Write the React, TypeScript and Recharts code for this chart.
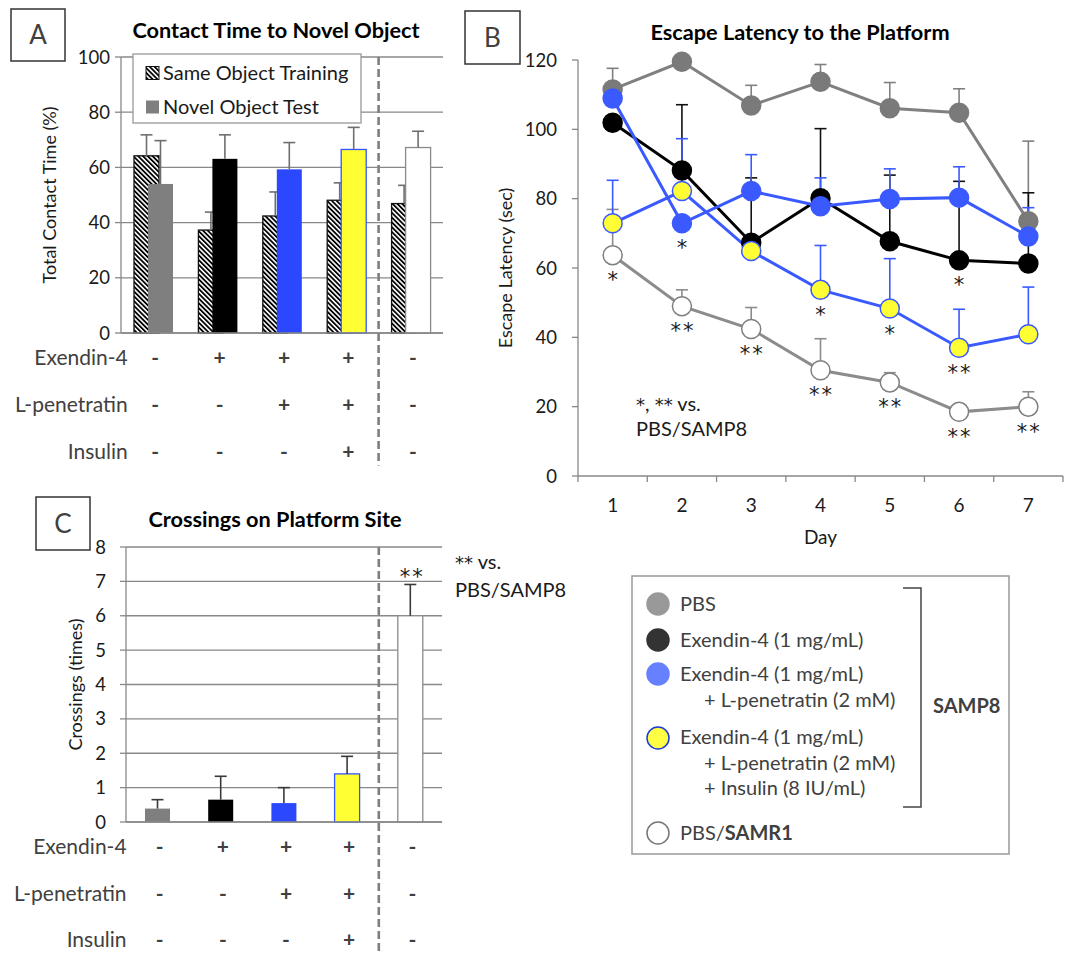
import React from 'react';
import {
  BarChart,
  Bar,
  LineChart,
  Line,
  XAxis,
  YAxis,
  CartesianGrid,
  ErrorBar,
  LabelList,
  ReferenceLine,
} from 'recharts';

const FONT = 'Lato, "Open Sans", sans-serif';
const STAR = '"DejaVu Sans", sans-serif';
const AXIS = '#888888';
const TEXT = '#1a1a1a';
const SOFT = '#404040';
const BLUE = '#3a5aff';

// ---- groups shared by panels A and C
const groups = ['PBS', 'Ex4', 'Ex4+LP', 'Ex4+LP+Ins', 'SAMR1'];
const rowLabels = ['Exendin-4', 'L-penetratin', 'Insulin'];
const exendinSigns = ['-', '+', '+', '+', '-'];
const penetratinSigns = ['-', '-', '+', '+', '-'];
const insulinSigns = ['-', '-', '-', '+', '-'];
const signRows = [exendinSigns, penetratinSigns, insulinSigns];
const controlGroup = 'SAMR1'; // dashed separator sits at the start of this band

const groupFill = ['#7f7f7f', '#000000', '#2b48ff', '#ffff33', '#ffffff'];
const groupStroke = ['none', 'none', 'none', '#3355ff', '#8a8a8a'];

// ---- panel A: contact time (%)
const trainingTime = [64.2, 37.3, 42.4, 48.1, 46.9];
const trainingErr = [7.6, 6.5, 8.7, 6.3, 6.6];
const novelTime = [54.0, 63.1, 59.3, 66.5, 67.2];
const novelErr = [15.7, 8.7, 9.7, 8.0, 5.9];
const contactTicks = [0, 20, 40, 60, 80, 100];

// ---- panel B: escape latency (sec)
const days = [1, 2, 3, 4, 5, 6, 7];
const dayAxisTicks = [0.5, 1, 1.5, 2, 2.5, 3, 3.5, 4, 4.5, 5, 5.5, 6, 6.5, 7, 7.5];
const latencyTicks = [0, 20, 40, 60, 80, 100, 120];
const pbsLatency = [111.5, 119.5, 106.9, 113.7, 106.1, 104.8, 73.5];
const pbsErr = [6.1, null, 5.8, 5.0, 7.4, 6.9, 23.1];
const exLatency = [101.9, 88.1, 67.3, 80.1, 67.7, 62.2, 61.3];
const exErr = [null, 19.0, 18.7, 20.1, 19.1, 22.8, 20.4];
const exLpLatency = [108.9, 72.9, 82.2, 77.8, 79.9, 80.3, 69.1];
const exLpErr = [null, null, 10.5, 8.2, 8.7, 8.9, 8.3];
const exLpInsLatency = [72.9, 82.2, 64.9, 53.7, 48.3, 37.0, 40.9];
const exLpInsErr = [12.4, 15.1, null, 12.8, 14.4, 11.1, 13.6];
const samr1Latency = [63.7, 49.0, 42.4, 30.5, 27.0, 18.5, 20.0];
const samr1Err = [13.2, 4.7, 6.2, 9.1, 2.8, null, 4.3];
const exSig = ['', '', '', '', '', '*', ''];
const exLpSig = ['', '*', '', '', '', '', ''];
const exLpInsSig = ['', '', '', '*', '*', '**', ''];
const samr1Sig = ['*', '**', '**', '**', '**', '**', '**'];

// ---- panel C: crossings (times)
const crossings = [0.39, 0.65, 0.55, 1.4, 6.0];
const crossErr = [0.26, 0.68, 0.45, 0.51, 0.91];
const crossSig = ['', '', '', '', '**'];
const crossTicks = [0, 1, 2, 3, 4, 5, 6, 7, 8];

// ---- legend
const legendItems = [
  { lines: ['PBS'], fill: '#999999', stroke: '#999999' },
  { lines: ['Exendin-4 (1 mg/mL)'], fill: '#333333', stroke: '#333333' },
  { lines: ['Exendin-4 (1 mg/mL)', '+ L-penetratin (2 mM)'], fill: '#6680ff', stroke: '#6680ff' },
  { lines: ['Exendin-4 (1 mg/mL)', '+ L-penetratin (2 mM)', '+ Insulin (8 IU/mL)'], fill: '#ffff44', stroke: '#1f3bd6' },
];

const errPair = (e: number | null) => (e == null ? null : [0, e]);

const contactRows = groups.map((g, i) => ({
  group: g,
  training: trainingTime[i],
  novel: novelTime[i],
}));

const latencyRows = days.map((d, i) => ({
  day: d,
  pbs: pbsLatency[i],
  pbsErr: errPair(pbsErr[i]),
  ex: exLatency[i],
  exErr: errPair(exErr[i]),
  exLp: exLpLatency[i],
  exLpErr: errPair(exLpErr[i]),
  exLpIns: exLpInsLatency[i],
  exLpInsErr: errPair(exLpInsErr[i]),
  samr1: samr1Latency[i],
  samr1Err: errPair(samr1Err[i]),
  exSig: exSig[i],
  exLpSig: exLpSig[i],
  exLpInsSig: exLpInsSig[i],
  samr1Sig: samr1Sig[i],
}));

const crossRows = groups.map((g, i) => ({ group: g, crossings: crossings[i], sig: crossSig[i] }));

// bar + upper whisker, whisker length taken from the bar's own pixel scale
function whiskerBar(values: number[], errs: number[], fills: string[], strokes: string[], color: string) {
  return (props: any) => {
    const { x, y, width, height, payload } = props;
    const i = groups.indexOf(payload.group);
    const k = height / values[i];
    const cx = x + width / 2;
    const top = y - errs[i] * k;
    return (
      <g>
        <rect x={x} y={y} width={width} height={height} fill={fills[i]} stroke={strokes[i]} strokeWidth={1.3} />
        <line x1={cx} y1={y} x2={cx} y2={top} stroke={color} strokeWidth={1.6} />
        <line x1={cx - 6} y1={top} x2={cx + 6} y2={top} stroke={color} strokeWidth={1.6} />
      </g>
    );
  };
}

function signTick(rowDy: number[], labelGap: number) {
  return (props: any) => {
    const { x, y, index } = props;
    return (
      <g>
        {signRows.map((row, r) => (
          <text key={r} x={x + 2} y={y + rowDy[r]} textAnchor="middle" fontSize={21} fontWeight={700} fill={SOFT}>
            {row[index]}
          </text>
        ))}
        {index === 0 &&
          rowLabels.map((lab, r) => (
            <text key={'l' + r} x={x - labelGap} y={y + rowDy[r]} textAnchor="end" fontSize={21} fill={SOFT}>
              {lab}
            </text>
          ))}
      </g>
    );
  };
}

const dayTick = (props: any) => {
  const { x, y, payload } = props;
  if (Number.isInteger(payload.value)) {
    return (
      <text x={x} y={y + 36} textAnchor="middle" fontSize={19} fill={TEXT}>
        {payload.value}
      </text>
    );
  }
  return <line x1={x} x2={x} y1={y} y2={y + 6} stroke={AXIS} strokeWidth={1.3} />;
};

const sigLabel = (props: any) => {
  const { x, y, value } = props;
  if (!value) return null;
  return (
    <text x={x + 1} y={y + 32} textAnchor="middle" fontSize={21} fontFamily={STAR} fill={TEXT} letterSpacing={2}>
      {value}
    </text>
  );
};

const crossSigLabel = (props: any) => {
  const { x, y, width, height, value, index } = props;
  if (!value) return null;
  const top = y - crossErr[index] * (height / crossings[index]);
  return (
    <text x={x + width / 2 + 2} y={top} textAnchor="middle" fontSize={21} fontFamily={STAR} fill={TEXT} letterSpacing={2}>
      {value}
    </text>
  );
};

const axisLine = { stroke: AXIS, strokeWidth: 1.3 };
const tickStyle = { fill: TEXT, fontSize: 18.5 };
const axisTitle = { textAnchor: 'middle', fontSize: 18, fill: TEXT };
const dashed = { stroke: '#7f7f7f', strokeWidth: 2.6, strokeDasharray: '8 4' };

const HatchDef = ({ id }: { id: string }) => (
  <pattern id={id} patternUnits="userSpaceOnUse" width={3.4} height={3.4} patternTransform="rotate(-45)">
    <rect x={0} y={0} width={3.4} height={3.4} fill="#fff" />
    <rect x={0} y={0} width={1.8} height={3.4} fill="#000" />
  </pattern>
);

function PanelA() {
  return (
    <BarChart width={460} height={470} data={contactRows} margin={{ top: 57, right: 17, bottom: 7, left: 0 }} barSize={25} barGap={-11} barCategoryGap={0}>
      <defs>
        <HatchDef id="hatch" />
      </defs>
      <CartesianGrid vertical={false} stroke={AXIS} strokeWidth={1.3} />
      <XAxis dataKey="group" interval={0} tick={signTick([32, 79, 126], 25.5)} tickLine={false} tickSize={0} tickMargin={0} height={130} axisLine={axisLine} />
      <YAxis
        domain={[0, 100]}
        ticks={contactTicks}
        width={121}
        tickSize={6}
        tickMargin={5}
        axisLine={axisLine}
        tickLine={axisLine}
        tick={tickStyle}
        label={{ value: 'Total Contact Time (%)', angle: -90, position: 'insideLeft', offset: 50, style: axisTitle }}
      />
      <Bar dataKey="training" isAnimationActive={false} shape={whiskerBar(trainingTime, trainingErr, groups.map(() => 'url(#hatch)'), groups.map(() => '#111'), '#6e6e6e')} />
      <Bar dataKey="novel" isAnimationActive={false} shape={whiskerBar(novelTime, novelErr, groupFill, groupStroke, '#6e6e6e')} />
      <ReferenceLine
        segment={[{ x: controlGroup, y: 100 }, { x: controlGroup, y: -48 }]}
        position="start"
        ifOverflow="visible"
        {...dashed}
      />
    </BarChart>
  );
}

function PanelB() {
  const series = [
    { key: 'samr1', err: 'samr1Err', sig: 'samr1Sig', line: '#8c8c8c', fill: '#ffffff', stroke: '#7f7f7f', errColor: '#8c8c8c' },
    { key: 'pbs', err: 'pbsErr', sig: '', line: '#808080', fill: '#7a7a7a', stroke: '#7a7a7a', errColor: '#808080' },
    { key: 'ex', err: 'exErr', sig: 'exSig', line: '#000000', fill: '#000000', stroke: '#000000', errColor: '#111111' },
    { key: 'exLpIns', err: 'exLpInsErr', sig: 'exLpInsSig', line: BLUE, fill: '#ffff33', stroke: BLUE, errColor: BLUE },
    { key: 'exLp', err: 'exLpErr', sig: 'exLpSig', line: BLUE, fill: BLUE, stroke: BLUE, errColor: BLUE },
  ];
  return (
    <LineChart width={608} height={560} data={latencyRows} margin={{ top: 60, right: 5, bottom: 0, left: 0 }}>
      <XAxis
        dataKey="day"
        type="number"
        domain={[0.5, 7.5]}
        ticks={dayAxisTicks}
        interval={0}
        tick={dayTick}
        tickLine={false}
        tickSize={0}
        tickMargin={0}
        height={84}
        axisLine={axisLine}
        label={{ value: 'Day', position: 'insideBottom', offset: 16, style: { fontSize: 19, fill: TEXT } }}
      />
      <YAxis
        domain={[0, 120]}
        ticks={latencyTicks}
        width={118}
        tickSize={6}
        tickMargin={15}
        axisLine={axisLine}
        tickLine={axisLine}
        tick={tickStyle}
        label={{ value: 'Escape Latency (sec)', angle: -90, position: 'insideLeft', offset: 46, style: axisTitle }}
      />
      {series.map((s) => (
        <Line
          key={s.key}
          dataKey={s.key}
          isAnimationActive={false}
          stroke={s.line}
          strokeWidth={3}
          dot={{ r: 9.5, fill: s.fill, stroke: s.stroke, strokeWidth: 1.5 }}
          activeDot={false}
        >
          <ErrorBar dataKey={s.err} width={6} stroke={s.errColor} strokeWidth={1.6} direction="y" />
          {s.sig && <LabelList dataKey={s.sig} content={sigLabel} />}
        </Line>
      ))}
    </LineChart>
  );
}

function PanelC() {
  return (
    <BarChart width={460} height={473} data={crossRows} margin={{ top: 67, right: 18, bottom: 6, left: 0 }} barSize={25}>
      <CartesianGrid vertical={false} stroke={AXIS} strokeWidth={1.3} />
      <XAxis dataKey="group" interval={0} tick={signTick([31.5, 78.7, 124.7], 31)} tickLine={false} tickSize={0} tickMargin={0} height={125} axisLine={axisLine} />
      <YAxis
        domain={[0, 8]}
        ticks={crossTicks}
        width={126}
        tickSize={6}
        tickMargin={14}
        axisLine={axisLine}
        tickLine={axisLine}
        tick={tickStyle}
        label={{ value: 'Crossings (times)', angle: -90, position: 'insideLeft', offset: 76, style: axisTitle }}
      />
      <Bar dataKey="crossings" isAnimationActive={false} shape={whiskerBar(crossings, crossErr, groupFill, groupStroke, '#3a3a3a')}>
        <LabelList dataKey="sig" content={crossSigLabel} />
      </Bar>
      <ReferenceLine
        segment={[{ x: controlGroup, y: 8 }, { x: controlGroup, y: -4 }]}
        position="start"
        ifOverflow="visible"
        {...dashed}
      />
    </BarChart>
  );
}

function PanelBox({ x, y, w, h, letter }: { x: number; y: number; w: number; h: number; letter: string }) {
  return (
    <g>
      <rect x={x} y={y} width={w} height={h} fill="#fff" stroke="#333" strokeWidth={1.5} />
      <text x={x + w / 2} y={y + h / 2 + 9} textAnchor="middle" fontSize={26} fill={SOFT}>
        {letter}
      </text>
    </g>
  );
}

const Star = ({ s }: { s: string }) => (
  <tspan fontFamily={STAR} fontSize={18}>
    {s}
  </tspan>
);

function Overlay() {
  const legendRowY = [604, 640, 674, 737];
  return (
    <svg width={1068} height={953} style={{ position: 'absolute', left: 0, top: 0, pointerEvents: 'none' }}>
      <defs>
        <HatchDef id="hatchKey" />
      </defs>
      <PanelBox x={11} y={9} w={54} h={52} letter="A" />
      <PanelBox x={465} y={11} w={55} h={53} letter="B" />
      <PanelBox x={36} y={497} w={54} h={53} letter="C" />

      <text x={276} y={37.5} textAnchor="middle" fontSize={21.7} fontWeight={700} fill="#000">Contact Time to Novel Object</text>
      <text x={800} y={39.5} textAnchor="middle" fontSize={21.7} fontWeight={700} fill="#000">Escape Latency to the Platform</text>
      <text x={275} y={526.5} textAnchor="middle" fontSize={21.7} fontWeight={700} fill="#000">Crossings on Platform Site</text>

      {/* panel A key */}
      <rect x={133} y={54} width={228} height={69} fill="#fff" stroke="#999" strokeWidth={1.3} />
      <rect x={146} y={66.5} width={13} height={13} fill="url(#hatchKey)" stroke="#111" strokeWidth={1} />
      <text x={163} y={80} fontSize={20} fill={TEXT}>Same Object Training</text>
      <rect x={146} y={100.5} width={13} height={13} fill="#7f7f7f" />
      <text x={163} y={114} fontSize={20} fill={TEXT}>Novel Object Test</text>

      {/* panel B note */}
      <text x={636} y={411} fontSize={20} fill={TEXT}>
        <Star s="*" />, <Star s="**" /> vs.
      </text>
      <text x={636} y={436} fontSize={20} fill={TEXT}>PBS/SAMP8</text>

      {/* panel C note */}
      <text x={455} y={569} fontSize={20} fill={TEXT}>
        <Star s="**" /> vs.
      </text>
      <text x={455} y={597} fontSize={20} fill={TEXT}>PBS/SAMP8</text>

      {/* group legend */}
      <rect x={632} y={576} width={377} height={278} fill="#fff" stroke="#999" strokeWidth={1.5} />
      {legendItems.map((it, i) => (
        <g key={i}>
          <circle cx={658} cy={legendRowY[i] + (i === 3 ? 1 : 0)} r={11} fill={it.fill} stroke={it.stroke} strokeWidth={1.5} />
          {it.lines.map((ln, j) => (
            <text key={j} x={j === 0 ? 680 : 704} y={legendRowY[i] + 7 + j * 25.5} fontSize={20} fill={SOFT}>
              {ln}
            </text>
          ))}
        </g>
      ))}
      <circle cx={658} cy={833} r={11} fill="#fff" stroke="#777" strokeWidth={1.5} />
      <text x={680} y={840} fontSize={20} fill={SOFT}>
        PBS/<tspan fontWeight={700}>SAMR1</tspan>
      </text>
      <polyline points="903,588 921,588 921,807 903,807" fill="none" stroke="#444" strokeWidth={1.5} />
      <text x={933} y={713} fontSize={20} fontWeight={700} fill={SOFT}>SAMP8</text>
    </svg>
  );
}

export default function App() {
  return (
    <div style={{ position: 'absolute', left: 0, top: 0, width: 1068, height: 953, background: '#fff', fontFamily: FONT, overflow: 'hidden' }}>
      <div style={{ position: 'absolute', left: 0, top: 0 }}>
        <PanelA />
      </div>
      <div style={{ position: 'absolute', left: 460, top: 0 }}>
        <PanelB />
      </div>
      <div style={{ position: 'absolute', left: 0, top: 480 }}>
        <PanelC />
      </div>
      <Overlay />
    </div>
  );
}
